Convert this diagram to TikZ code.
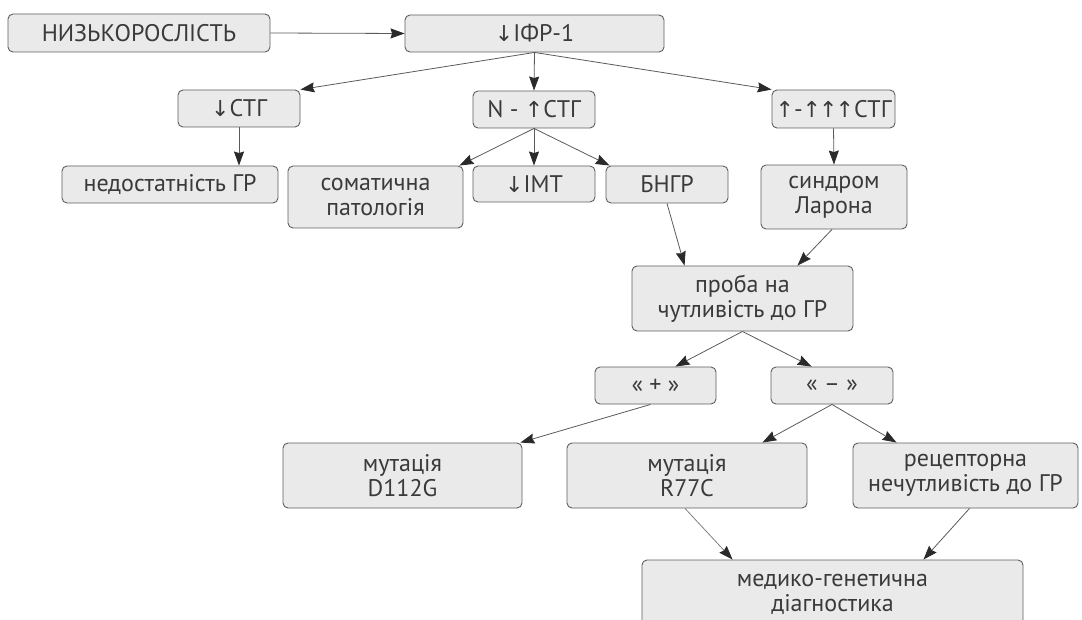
\documentclass[tikz,border=0pt]{standalone}
\usepackage{fontspec}
\setmainfont{PT Sans}
\newfontfamily\arrf{DejaVu Sans}
\usetikzlibrary{arrows.meta,calc}
\definecolor{boxline}{HTML}{5E5E5E}
\definecolor{boxfill}{HTML}{EAEAEA}
\definecolor{txt}{HTML}{3A3A3A}
\definecolor{conn}{HTML}{5A5A5A}
\definecolor{tip}{HTML}{2A2A2A}
\newcommand\mydn{{\arrf\fontsize{22}{22}\selectfont ↓}}
\newcommand\myup{{\arrf\fontsize{22}{22}\selectfont ↑}}
\tikzset{
  box/.style={draw=boxline, line width=0.9pt, rounded corners=5pt, fill=boxfill,
    inner sep=0pt, align=center, text=txt, font=\fontsize{24}{25}\selectfont},
  conn/.style={draw=conn, line width=0.8pt, -{Stealth[length=14pt,width=10pt,inset=1.5pt,color=tip]}},
}
\begin{document}
\begin{tikzpicture}[x=1pt,y=-1pt]
\useasboundingbox (0,0) rectangle (1082,620);
\clip (0,0) rectangle (1082,620);
\node[box, minimum width=262, minimum height=38] (nizko) at (139,33) {НИЗЬКОРОСЛІСТЬ};
\node[box, minimum width=259, minimum height=37] (ifr) at (534.5,33.5) {\mydn ІФР-1};
\node[box, minimum width=122, minimum height=37] (stglow) at (239,108.5) {\mydn СТГ};
\node[box, minimum width=122, minimum height=37] (stgn) at (534,109.5) {N - \myup СТГ};
\node[box, minimum width=123, minimum height=38] (stghi) at (833.5,109) {\myup-\myup\kern-2pt\myup\kern-2pt\myup СТГ};
\node[box, minimum width=216, minimum height=37] (ned) at (170,184.5) {недостатність ГР};
\node[box, minimum width=175, minimum height=62] (som) at (375.5,197) {соматична\\патологія};
\node[box, minimum width=122, minimum height=36] (imt) at (534,184) {\mydn ІМТ};
\node[box, minimum width=122, minimum height=37] (bngr) at (667,184.5) {БНГР};
\node[box, minimum width=146, minimum height=64] (laron) at (834,197) {синдром\\Ларона};
\node[box, minimum width=221, minimum height=65] (proba) at (742.5,298.5) {проба на\\чутливість до ГР};
\node[box, minimum width=121, minimum height=37] (plus) at (655.5,385.5) {« + »};
\node[box, minimum width=122, minimum height=37] (minus) at (832,385.5) {« – »};
\node[box, minimum width=239, minimum height=65] (d112) at (402.5,475.5) {мутація\\D112G};
\node[box, minimum width=240, minimum height=65] (r77) at (687,475.5) {мутація\\R77C};
\node[box, minimum width=225, minimum height=65] (rec) at (965.5,475.5) {рецепторна\\нечутливість до ГР};
\node[box, minimum width=381, minimum height=68] (med) at (832.5,594) {медико-генетична\\діагностика};

\draw[conn] (nizko.east) -- (ifr.west);
\draw[conn] (ifr.south) -- (stglow.north east);
\draw[conn] (ifr.south) -- (stgn.north);
\draw[conn] (ifr.south) -- (stghi.north west);
\draw[conn] (stglow.south) -- (stglow.south |- ned.north);
\draw[conn] (stgn.south) -- ($(som.north east)+(-4,0)$);
\draw[conn] (stgn.south) -- (imt.north);
\draw[conn] (stgn.south) -- ($(bngr.north west)+(4,0)$);
\draw[conn] (stghi.south) -- (laron.north);
\draw[conn] (bngr.south) -- ($(proba.north west)+(53,0)$);
\draw[conn] ($(laron.south)+(-2,0)$) -- ($(proba.north east)+(-56,0)$);
\draw[conn] (proba.south) -- ($(plus.north east)+(-41,0)$);
\draw[conn] (proba.south) -- ($(minus.north west)+(41,0)$);
\draw[conn] ($(plus.south)+(-5,0)$) -- ($(d112.north east)+(-2,0)$);
\draw[conn] (minus.south) -- ($(r77.north east)+(-45,0)$);
\draw[conn] (minus.south) -- ($(rec.north west)+(44,0)$);
\draw[conn, draw=gray] ($(r77.south)+(-2,0)$) -- ($(med.north west)+(91,0)$);
\draw[conn] ($(rec.south)+(4,0)$) -- ($(med.north east)+(-100,0)$);
\end{tikzpicture}
\end{document}
